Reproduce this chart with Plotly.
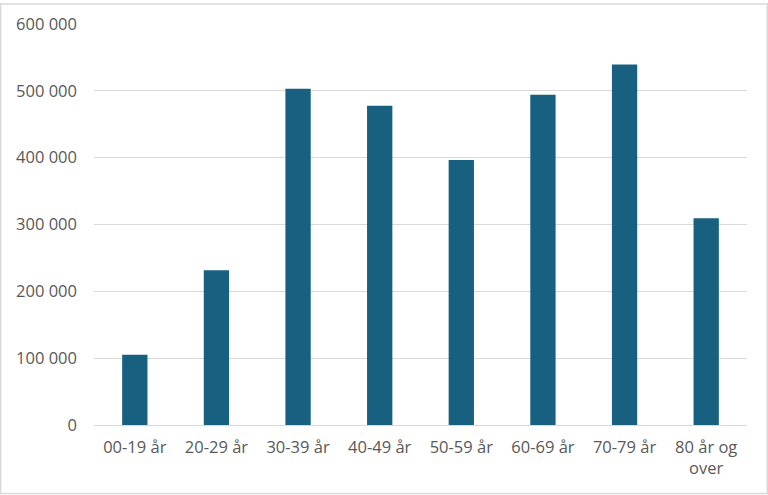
import plotly.graph_objects as go

categories = ["00-19 år", "20-29 år", "30-39 år", "40-49 år", "50-59 år",
              "60-69 år", "70-79 år", "80 år og<br>over"]
values = [105000, 231500, 503000, 477500, 396500, 494000, 539500, 309500]
y_ticks = [0, 100000, 200000, 300000, 400000, 500000, 600000]

fig = go.Figure(go.Bar(x=categories, y=values, marker=dict(color="#17607f", line=dict(width=0))))

fig.update_layout(
    width=768, height=495,
    margin=dict(l=94, r=21, t=21, b=70),
    paper_bgcolor="white", plot_bgcolor="white",
    bargap=0.69,
    separators=", ",
    font=dict(family="Open Sans, Liberation Sans, sans-serif", size=16.5, color="#595959"),
    showlegend=False,
    shapes=[dict(type="rect", xref="paper", yref="paper",
                 x0=-0.143, x1=1.031, y0=-0.171, y1=1.05,
                 line=dict(color="#d9d9d9", width=1.5), layer="below")],
)
fig.update_xaxes(showgrid=False, ticks="", ticklabelstandoff=10, showline=False)
fig.update_yaxes(range=[0, 600000], tickvals=y_ticks, tickformat=",d",
                 gridcolor="#d9d9d9", gridwidth=1, zeroline=True, zerolinecolor="#d9d9d9",
                 zerolinewidth=1, ticklabelstandoff=16)

# remove the default page margin so the figure sits at the window's top-left corner
fig.write_html("out.html", config={"displayModeBar": False},
               post_script="document.body.style.margin='0';")
